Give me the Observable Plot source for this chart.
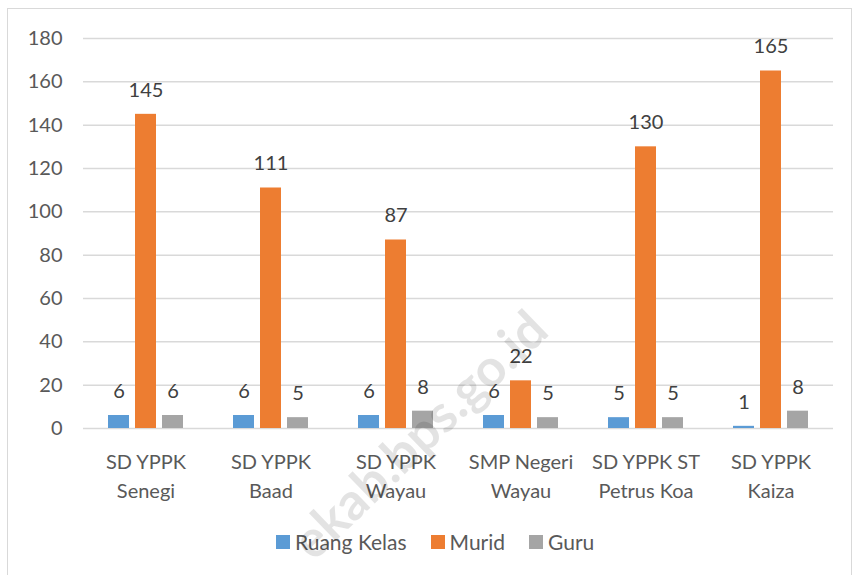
<!DOCTYPE html>
<html>
<head>
<meta charset="utf-8">
<script src="https://cdn.jsdelivr.net/npm/d3@7"></script>
<script src="https://cdn.jsdelivr.net/npm/@observablehq/plot@0.6"></script>
<style>
  body { margin: 0; background: #fff; font-family: Lato, "Open Sans", sans-serif; }
  #wrap { position: relative; width: 853px; height: 575px; overflow: hidden; background: #fff; }
  #frame { position: absolute; left: 7px; top: 8px; width: 845px; height: 590px; border: 1px solid #d9d9d9; box-sizing: border-box; }
  #chart { position: absolute; left: 0; top: 0; }
  #legend { position: absolute; left: 276px; top: 529px; display: flex; align-items: center; font-size: 21px; color: #595959; font-family: Lato, sans-serif; }
  #legend .item { display: flex; align-items: center; margin-right: 24px; }
  #legend .sw { width: 14px; height: 14px; margin-right: 5px; }
  #wm { position: absolute; right: 316px; top: 288px; transform-origin: 100% 50%; transform: rotate(-44deg);
        font: bold 52px Lato, sans-serif; color: rgba(0,0,0,0.11); white-space: nowrap; pointer-events: none; }
</style>
</head>
<body>
<div id="wrap">
  <div id="frame"></div>
  <div id="chart"></div>
  <div id="legend"></div>
  <div id="wm">ekab.bps.go.id</div>
</div>
<script>
const schools = ["SD YPPK\nSenegi", "SD YPPK\nBaad", "SD YPPK\nWayau", "SMP Negeri\nWayau", "SD YPPK ST\nPetrus Koa", "SD YPPK\nKaiza"];
const seriesNames = ["Ruang Kelas", "Murid", "Guru"];
const seriesColors = ["#5B9BD5", "#ED7D31", "#A5A5A5"];
const ruangKelas = [6, 6, 6, 6, 5, 1];
const murid = [145, 111, 87, 22, 130, 165];
const guru = [6, 5, 8, 5, 5, 8];
const yTicks = [0, 20, 40, 60, 80, 100, 120, 140, 160, 180];

const valuesBySeries = [ruangKelas, murid, guru];
const data = [];
schools.forEach((s, i) => {
  seriesNames.forEach((n, j) => data.push({school: s, series: n, value: valuesBySeries[j][i]}));
});

const chart = Plot.plot({
  width: 853,
  height: 520,
  marginLeft: 83,
  marginRight: 20,
  marginTop: 38,
  marginBottom: 92,
  style: {fontFamily: "Lato, sans-serif", background: "transparent"},
  fx: {domain: schools, padding: 0, label: null},
  x: {domain: seriesNames, paddingInner: 0.214, paddingOuter: 0.84, axis: null},
  y: {domain: [0, 180], axis: null},
  color: {domain: seriesNames, range: seriesColors},
  marks: [
    Plot.gridY(yTicks, {stroke: "#d9d9d9", strokeOpacity: 1, strokeWidth: 1.5}),
    Plot.axisY(yTicks, {tickSize: 0, tickPadding: 21, fontSize: 20, fill: "#595959", label: null}),
    Plot.barY(data, {fx: "school", x: "series", y: "value", fill: "series"}),
    Plot.text(data, {fx: "school", x: "series", y: "value", text: d => String(d.value),
      lineAnchor: "middle", dy: -24, fontSize: 20, fill: "#404040"}),
    Plot.axisFx({anchor: "bottom", tickSize: 0, tickPadding: 20, fontSize: 20, fill: "#595959", lineHeight: 1.45, label: null})
  ]
});
document.getElementById("chart").appendChild(chart);

const legend = document.getElementById("legend");
seriesNames.forEach((n, j) => {
  const item = document.createElement("div");
  item.className = "item";
  const sw = document.createElement("div");
  sw.className = "sw";
  sw.style.background = seriesColors[j];
  const t = document.createElement("span");
  t.textContent = n;
  item.appendChild(sw);
  item.appendChild(t);
  legend.appendChild(item);
});
</script>
</body>
</html>
